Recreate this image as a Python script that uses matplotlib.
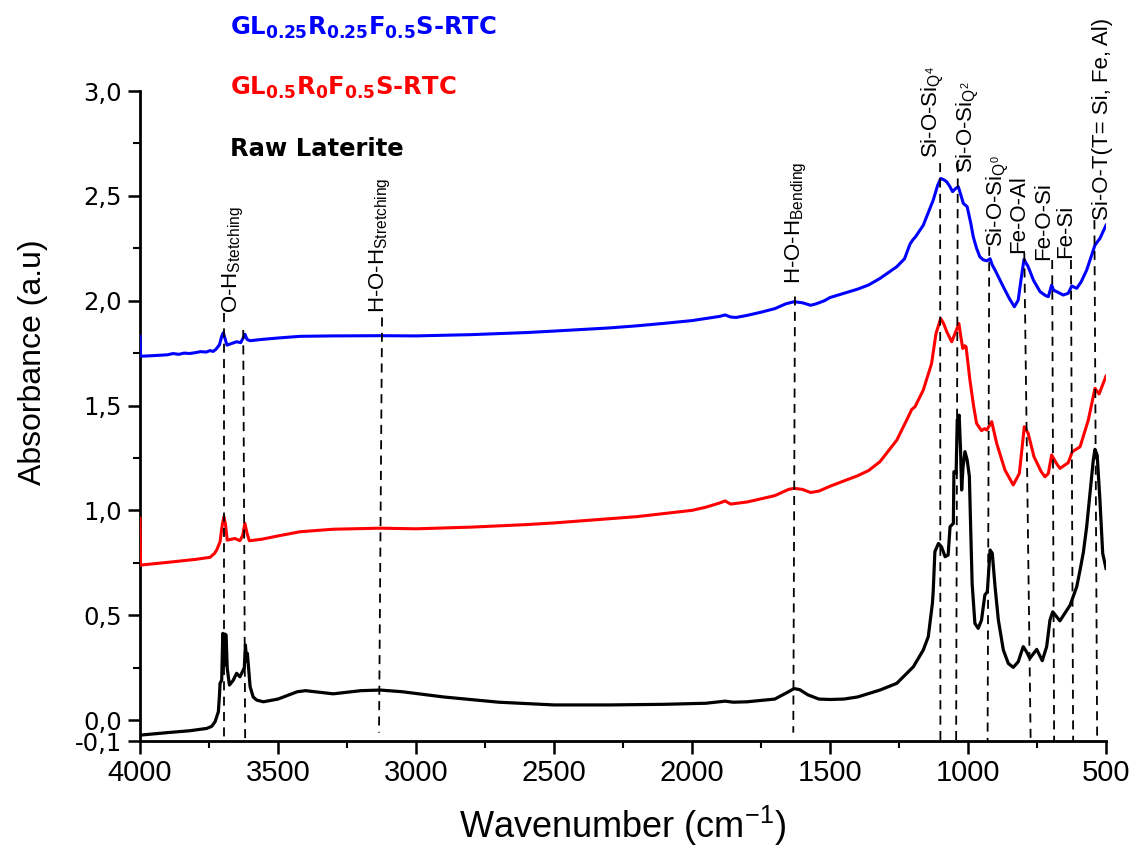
import matplotlib
matplotlib.use("Agg")
import matplotlib.pyplot as plt
from matplotlib.ticker import MultipleLocator

# --- spectra (wavenumber in cm-1, absorbance in a.u.) ---
blue_wn = [4000, 3998, 3950, 3900, 3880, 3860, 3840, 3820, 3800, 3780, 3760, 3746, 3735,
           3725, 3712, 3704, 3698, 3692, 3685, 3670, 3650, 3635, 3625, 3620, 3612, 3601,
           3560, 3500, 3420, 3300, 3130, 3000, 2800, 2600, 2500, 2300, 2200, 2100, 2000,
           1950, 1900, 1880, 1860, 1840, 1800, 1750, 1700, 1660, 1630, 1600, 1570, 1550,
           1520, 1500, 1450, 1400, 1360, 1319, 1258, 1230, 1210, 1200, 1190, 1162, 1126,
           1110, 1099, 1088, 1077, 1066, 1056, 1045, 1035, 1025, 1017, 1003, 990, 981,
           969, 957, 945, 932, 920, 912, 902, 872, 850, 832, 818, 808, 797, 790, 782,
           763, 739, 720, 709, 697, 690, 679, 655, 637, 624, 606, 590, 570, 550, 540,
           522, 500]
blue_abs = [1.83, 1.735, 1.738, 1.742, 1.748, 1.744, 1.75, 1.748, 1.752, 1.757, 1.755,
            1.762, 1.758, 1.768, 1.79, 1.83, 1.847, 1.82, 1.788, 1.795, 1.804, 1.80,
            1.825, 1.84, 1.815, 1.809, 1.815, 1.822, 1.83, 1.832, 1.833, 1.832, 1.838,
            1.848, 1.855, 1.87, 1.88, 1.892, 1.905, 1.915, 1.925, 1.932, 1.922, 1.92,
            1.93, 1.945, 1.962, 1.985, 1.995, 1.99, 1.978, 1.985, 2.0, 2.015, 2.035,
            2.055, 2.075, 2.106, 2.162, 2.2, 2.27, 2.29, 2.305, 2.36, 2.48, 2.55, 2.583,
            2.577, 2.567, 2.545, 2.52, 2.535, 2.543, 2.50, 2.464, 2.448, 2.37, 2.305,
            2.25, 2.209, 2.195, 2.19, 2.2, 2.17, 2.146, 2.066, 2.01, 1.971, 2.003, 2.10,
            2.197, 2.18, 2.162, 2.098, 2.043, 2.025, 2.019, 2.074, 2.05, 2.043, 2.027,
            2.035, 2.07, 2.059, 2.09, 2.146, 2.225, 2.265, 2.297, 2.36]

red_wn = [4000, 3998, 3900, 3800, 3746, 3730, 3722, 3710, 3702, 3696, 3690, 3684, 3670,
          3656, 3638, 3628, 3620, 3612, 3604, 3560, 3500, 3420, 3300, 3130, 3000, 2800,
          2600, 2500, 2300, 2200, 2000, 1950, 1900, 1880, 1860, 1800, 1750, 1700, 1650,
          1630, 1600, 1570, 1540, 1500, 1450, 1400, 1360, 1319, 1258, 1215, 1204, 1192,
          1162, 1132, 1116, 1099, 1088, 1077, 1059, 1045, 1033, 1025, 1019, 1012, 1007,
          993, 980, 969, 951, 940, 932, 914, 896, 866, 836, 814, 796, 782, 761, 735,
          721, 709, 697, 680, 667, 637, 622, 594, 564, 540, 525, 500]
red_abs = [0.962, 0.739, 0.752, 0.766, 0.776, 0.795, 0.811, 0.85, 0.93, 0.97, 0.93,
           0.858, 0.862, 0.866, 0.855, 0.88, 0.938, 0.89, 0.855, 0.862, 0.878, 0.898,
           0.91, 0.915, 0.912, 0.92, 0.932, 0.94, 0.96, 0.97, 1.0, 1.015, 1.035, 1.045,
           1.03, 1.04, 1.055, 1.07, 1.10, 1.105, 1.10, 1.085, 1.092, 1.115, 1.14, 1.165,
           1.19, 1.232, 1.335, 1.45, 1.481, 1.494, 1.574, 1.70, 1.843, 1.915, 1.89,
           1.852, 1.804, 1.85, 1.891, 1.82, 1.772, 1.785, 1.78, 1.621, 1.50, 1.415,
           1.38, 1.39, 1.383, 1.423, 1.319, 1.192, 1.121, 1.176, 1.399, 1.367, 1.256,
           1.185, 1.16, 1.176, 1.264, 1.225, 1.2, 1.227, 1.28, 1.303, 1.431, 1.582,
           1.555, 1.64]

raw_wn = [4000, 3900, 3819, 3758, 3740, 3728, 3716, 3712, 3710, 3704, 3700, 3695, 3692,
          3688, 3684, 3676, 3662, 3650, 3638, 3626, 3622, 3618, 3614, 3611, 3601, 3590,
          3577, 3553, 3500, 3430, 3400, 3300, 3200, 3130, 3050, 2900, 2700, 2500, 2300,
          2100, 1950, 1880, 1850, 1800, 1700, 1650, 1630, 1610, 1580, 1540, 1500, 1450,
          1400, 1319, 1258, 1198, 1162, 1144, 1138, 1129, 1126, 1120, 1107, 1096, 1083,
          1072, 1065, 1053, 1051, 1043, 1039, 1032, 1027, 1023, 1018, 1011, 1003, 995,
          990, 985, 975, 963, 951, 939, 930, 920, 912, 902, 890, 872, 854, 836, 818,
          800, 788, 776, 751, 731, 715, 703, 693, 667, 630, 606, 594, 582, 570, 546,
          540, 532, 522, 512, 500]
raw_abs = [-0.072, -0.06, -0.051, -0.04, -0.03, -0.008, 0.04, 0.12, 0.175, 0.19, 0.413,
           0.26, 0.41, 0.405, 0.247, 0.167, 0.19, 0.223, 0.206, 0.238, 0.25, 0.358, 0.28,
           0.318, 0.159, 0.11, 0.095, 0.087, 0.10, 0.135, 0.14, 0.125, 0.14, 0.143,
           0.135, 0.11, 0.085, 0.072, 0.072, 0.075, 0.08, 0.09, 0.085, 0.087, 0.10,
           0.135, 0.15, 0.145, 0.12, 0.10, 0.098, 0.10, 0.11, 0.143, 0.175, 0.254, 0.334,
           0.397, 0.461, 0.556, 0.615, 0.803, 0.842, 0.826, 0.779, 0.787, 0.922, 0.938,
           1.184, 1.177, 1.431, 1.454, 1.288, 1.097, 1.208, 1.28, 1.24, 1.161, 0.9, 0.65,
           0.461, 0.437, 0.477, 0.596, 0.612, 0.811, 0.795, 0.636, 0.477, 0.334, 0.27,
           0.251, 0.278, 0.35, 0.326, 0.294, 0.337, 0.283, 0.35, 0.477, 0.516, 0.473,
           0.548, 0.636, 0.715, 0.80, 0.922, 1.24, 1.291, 1.264, 1.049, 0.795, 0.723]

# --- band assignments: label, text anchor (wn, abs), dashed line (wn_top, abs_top, wn_bottom, abs_bottom)
band_labels = [r"O-H$_{\rm Stetching}$", r"H-O-H$_{\rm Stretching}$", r"H-O-H$_{\rm Bending}$",
               r"Si-O-Si$_{\rm Q^4}$", r"Si-O-Si$_{\rm Q^2}$", r"Si-O-Si$_{\rm Q^0}$",
               "Fe-O-Al", "Fe-O-Si", "Fe-Si", "Si-O-T(T= Si, Fe, Al)"]
band_text_pos = [(3707, 1.94), (3174, 1.94), (1667, 2.08), (1174, 2.68), (1047, 2.61),
                 (938, 2.256), (855, 2.227), (764, 2.194), (685, 2.203), (551, 2.384)]
band_lines = [(3697, 1.94, 3697, -0.1), (3626, 1.86, 3619, -0.1), (3123, 1.92, 3134, -0.06),
              (1627, 2.02, 1633, -0.06), (1101, 2.656, 1100, -0.1), (1037, 2.656, 1043, -0.1),
              (923, 2.257, 929, -0.1), (796, 2.227, 773, -0.1), (695, 2.194, 688, -0.1),
              (627, 2.194, 619, -0.1), (542, 2.384, 532, -0.1)]

plt.rcParams["mathtext.fontset"] = "custom"
plt.rcParams["mathtext.rm"] = "Liberation Sans"
plt.rcParams["mathtext.it"] = "Liberation Sans:italic"
plt.rcParams["mathtext.bf"] = "Liberation Sans:bold"

W, H = 1134, 852
fig = plt.figure(figsize=(W / 100, H / 100), dpi=100)
ax = fig.add_axes([140 / W, 111 / H, 966 / W, 650 / H])

ax.plot(raw_wn, raw_abs, color="black", lw=2.3, zorder=3)
ax.plot(red_wn, red_abs, color="#ff0000", lw=2.2, zorder=3)
ax.plot(blue_wn, blue_abs, color="#0000ff", lw=2.2, zorder=3)

for x0, y0, x1, y1 in band_lines:
    ax.plot([x0, x1], [y0, y1], color="black", lw=1.3, ls=(0, (5, 3.5)), zorder=4, clip_on=False)

for lab, (x, y) in zip(band_labels, band_text_pos):
    ax.text(x, y, lab, rotation=90, ha="left", va="bottom", fontsize=16,
            family="Liberation Sans", clip_on=False)

ax.set_xlim(4000, 500)
ax.set_ylim(-0.1, 3.0)
for s in ("top", "right"):
    ax.spines[s].set_visible(False)
for s in ("left", "bottom"):
    ax.spines[s].set_linewidth(2)

xt = [4000, 3500, 3000, 2500, 2000, 1500, 1000, 500]
ax.set_xticks(xt)
ax.set_xticklabels([str(v) for v in xt], family="Liberation Sans", fontsize=21)
ax.xaxis.set_minor_locator(MultipleLocator(250))
yt = [-0.1, 0.0, 0.5, 1.0, 1.5, 2.0, 2.5, 3.0]
ax.set_yticks(yt)
ax.set_yticklabels([f"{v:.1f}".replace(".", ",") for v in yt], family="DejaVu Sans", fontsize=17.5)
ax.yaxis.set_minor_locator(MultipleLocator(0.25))
ax.tick_params(which="major", direction="out", length=9, width=1.8, pad=4)
ax.tick_params(which="minor", direction="out", length=5, width=1.5)

ax.set_xlabel(r"Wavenumber (cm$^{-1}$)", family="Liberation Sans", fontsize=26, labelpad=12)
ax.set_ylabel("Absorbance (a.u)", family="Liberation Sans", fontsize=23)
ax.yaxis.set_label_coords(-0.095, 0.583)

# sample names in the top-left corner
fig.text(230 / W, 1 - 35 / H, r"GL$_{\mathbf{0.25}}$R$_{\mathbf{0.25}}$F$_{\mathbf{0.5}}$S-RTC",
         color="#0000ff", fontweight="bold", fontsize=17.5, family="DejaVu Sans",
         math_fontfamily="dejavusans", va="baseline")
fig.text(230 / W, 1 - 95 / H, r"GL$_{\mathbf{0.5}}$R$_{\mathbf{0}}$F$_{\mathbf{0.5}}$S-RTC",
         color="#ff0000", fontweight="bold", fontsize=17.5, family="DejaVu Sans",
         math_fontfamily="dejavusans", va="baseline")
fig.text(230 / W, 1 - 156 / H, "Raw Laterite", color="black", fontweight="bold",
         fontsize=17.5, family="DejaVu Sans", va="baseline")

fig.savefig("out.png", dpi=100)
